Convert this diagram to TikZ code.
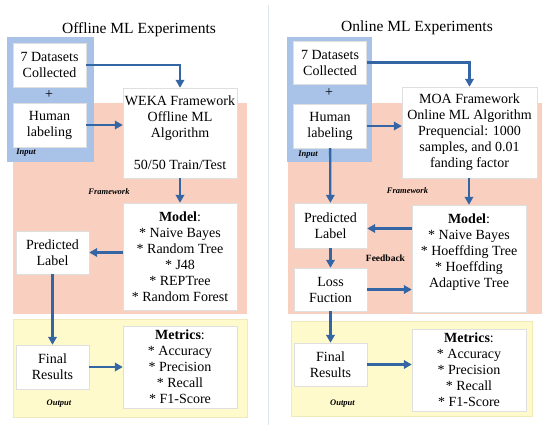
\documentclass[tikz,border=0pt]{standalone}
\usepackage{fontspec}
\setmainfont{Liberation Serif}
\usetikzlibrary{positioning,arrows.meta}

\definecolor{inblue}{RGB}{168,194,232}
\definecolor{fwsalmon}{RGB}{249,208,192}
\definecolor{outyellow}{RGB}{255,250,204}
\definecolor{outedge}{RGB}{240,233,185}
\definecolor{flowblue}{RGB}{52,101,164}
\definecolor{divgray}{RGB}{222,227,236}

\begin{document}
\begin{tikzpicture}[x=1pt, y=-1pt, >={Triangle[length=8pt,width=8.5pt]},
    box/.style={draw=gray!25, fill=white, align=center, inner sep=1pt,
                font=\fontsize{14}{16}\selectfont},
    small/.style={box, minimum width=73pt, minimum height=44pt},
    wide/.style={box, minimum width=114pt},
    flow/.style={->, draw=flowblue, line width=2.3pt},
    tag/.style={font=\fontsize{8.5}{10}\selectfont\bfseries\itshape},
    title/.style={font=\fontsize{15.5}{18}\selectfont}]
    \useasboundingbox (0,0) rectangle (550,431);

    % left panel: offline
    \fill[fwsalmon] (13,103) rectangle (247,314);
    \filldraw[fill=outyellow, draw=outedge] (13,319) rectangle (247,417);
    \fill[inblue] (7,37) rectangle (94,162);

    \node[title] (ttlL) at (139,30) {Offline ML Experiments};
    \node[small] (dsL) at (49.5,65) {7 Datasets\\Collected};
    \node[font=\fontsize{14}{16}\selectfont] (plusL) at (49,95) {+};
    \node[small] (humL) at (49.5,125) {Human\\labeling};
    \node[tag] (inL) at (26,153) {Input};
    \node[wide, minimum height=90pt] (wekaL) at (180,133)
        {WEKA Framework\\Offline ML\\Algorithm\\[16pt]50/50 Train/Test};
    \node[tag] (fwL) at (109,192) {Framework};
    \node[wide, minimum height=107pt] (modelL) at (180,256.5)
        {\textbf{Model}:\\* Naive Bayes\\* Random Tree\\* J48\\* REPTree\\* Random Forest};
    \node[small, minimum height=43pt] (predL) at (52.5,252.5) {Predicted\\Label};
    \node[small] (finalL) at (52.5,367) {Final\\Results};
    \node[wide, minimum height=82pt] (metL) at (180,367)
        {\textbf{Metrics}:\\* Accuracy\\* Precision\\* Recall\\* F1-Score};
    \node[tag] (outL) at (59,404) {Output};

    \draw[flow] (dsL.east) -| (wekaL.north);
    \draw[flow] (humL.east) -- (humL.east -| wekaL.west);
    \draw[flow] (wekaL) -- (modelL);
    \draw[flow] (predL.east -| modelL.west) -- (predL.east);
    \draw[flow] (predL) -- (finalL);
    \draw[flow] (finalL) -- (metL);

    % divider
    \coordinate (divtop) at (268,5);
    \coordinate (divbot) at (268,425);
    \draw[divgray, line width=1pt] (divtop) -- (divbot);

    % right panel: online
    \fill[fwsalmon] (288,103) rectangle (542,314);
    \filldraw[fill=outyellow, draw=outedge] (291,321) rectangle (532,416);
    \fill[inblue] (287,37) rectangle (372,162);

    \node[title] (ttlR) at (417,28) {Online ML Experiments};
    \node[small, minimum height=43pt] (dsR) at (330,62.5) {7 Datasets\\Collected};
    \node[font=\fontsize{14}{16}\selectfont] (plusR) at (329,93) {+};
    \node[small] (humR) at (330,126) {Human\\labeling};
    \node[tag] (inR) at (308,155) {Input};
    \node[box, minimum width=135pt, minimum height=91pt] (moaR) at (469.5,132.5)
        {MOA Framework\\Online ML Algorithm\\Prequencial: 1000\\samples, and 0.01\\fanding factor};
    \node[tag] (fwR) at (407.5,191) {Framework};
    \node[wide, minimum height=107pt] (modelR) at (469,258.5)
        {\textbf{Model}:\\* Naive Bayes\\* Hoeffding Tree\\* Hoeffding\\Adaptive Tree\\ \mbox{}};
    \node[small, minimum height=45pt] (predR) at (330.5,225.5) {Predicted\\Label};
    \node[small, minimum height=43pt, below of=predR, node distance=64pt] (lossR) {Loss\\Fuction};
    \node[font=\fontsize{9.5}{11}\selectfont\bfseries] (fbR) at (385.5,258) {Feedback};
    \node[small, minimum height=43pt] (finalR) at (330.5,364.5) {Final\\Results};
    \node[wide, minimum height=82pt] (metR) at (469,370)
        {\textbf{Metrics}:\\* Accuracy\\* Precision\\* Recall\\* F1-Score};
    \node[tag] (outR) at (342.5,404) {Output};

    \draw[flow] (dsR.east) -| (moaR.north);
    \draw[flow] (humR.east) -- (humR.east -| moaR.west);
    \draw[flow] (humR) -- (predR);
    \draw[flow] (moaR.south -| modelR.north) -- (modelR.north);
    \draw[flow] ([yshift=-3pt]predR.east -| modelR.west) -- ([yshift=-3pt]predR.east);
    \draw[flow] (predR) -- (lossR);
    \draw[flow] (lossR.east) -- (lossR.east -| modelR.west);
    \draw[flow] (lossR) -- (finalR);
    \draw[flow] (finalR.east) -- (finalR.east -| metR.west);
\end{tikzpicture}
\end{document}
